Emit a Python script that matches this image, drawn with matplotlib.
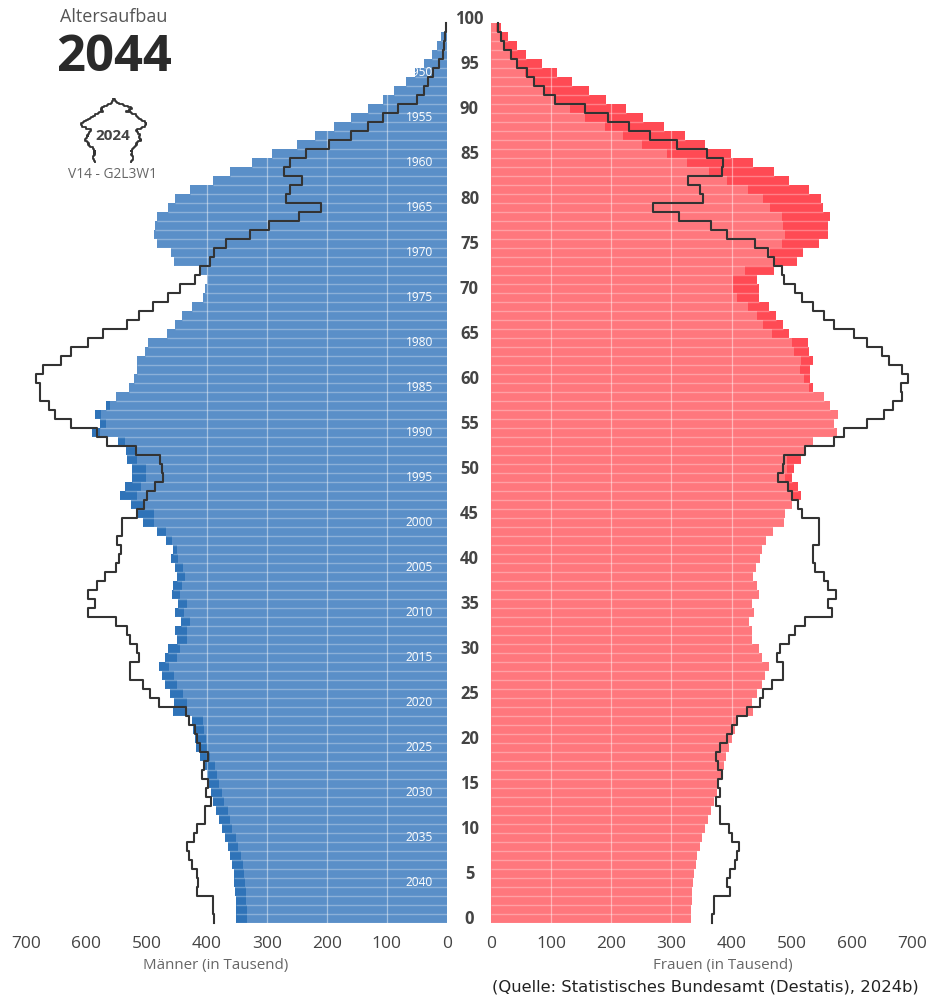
import numpy as np
import matplotlib
matplotlib.use("Agg")
import matplotlib.pyplot as plt

plt.rcParams['font.family'] = ['Open Sans', 'DejaVu Sans']

W, H = 930, 997
ages = np.arange(99, -1, -1)

# values in thousands, listed from age 99 down to age 0
men_2044_outer = [4,10,17,25,38,53,69,88,106,131,159,188,219,250,291,325,361,390,427,453,
                  465,482,486,488,482,460,454,413,400,403,406,425,441,453,466,498,503,515,515,520,
                  529,551,567,586,578,590,547,534,532,524,524,535,544,525,514,506,482,468,456,460,
                  453,450,456,458,448,452,443,452,450,465,469,479,475,469,461,455,456,424,423,419,
                  417,411,404,400,397,393,389,384,379,375,369,365,361,358,355,354,352,351,351,351]
men_2044_inner = [4,10,17,25,38,53,69,88,106,131,159,188,219,250,291,325,361,390,427,453,
                  465,482,486,488,482,460,454,413,400,403,406,425,441,453,466,498,503,515,515,520,
                  529,551,561,576,568,577,535,519,515,501,501,509,515,506,487,487,468,458,449,448,
                  440,436,441,444,433,437,428,433,433,445,449,462,454,450,440,433,435,406,404,401,
                  398,395,386,382,379,375,371,365,361,357,351,348,343,340,338,336,335,334,333,332]
men_2024 = [2,3,5,7,13,23,31,38,50,81,106,132,160,196,235,262,271,241,261,268,
            209,247,297,328,367,387,394,411,420,444,465,490,513,533,572,597,625,642,672,684,
            678,677,663,652,625,583,565,517,477,475,473,486,500,504,515,540,541,549,543,545,
            550,569,583,598,586,597,550,533,527,516,513,527,528,505,494,479,435,430,419,416,
            411,397,404,407,397,401,393,403,403,416,421,433,429,424,416,414,416,390,390,388]
women_2044_outer = [17,28,43,59,84,110,134,163,191,224,253,288,323,355,399,435,471,496,528,549,
                    552,564,561,560,545,518,509,471,443,445,446,463,474,485,496,527,528,535,530,530,
                    535,554,564,577,570,576,536,520,515,504,501,510,516,500,489,488,469,458,450,448,
                    441,436,442,445,434,438,429,434,434,446,450,463,456,450,442,434,436,409,406,400,
                    395,391,387,382,378,375,371,365,360,356,351,347,343,341,338,336,335,334,333,333]
women_2044_inner = [9,15,20,32,43,57,70,87,104,131,156,190,220,251,292,326,362,392,428,453,
                    464,484,486,489,484,464,473,423,403,403,409,427,443,453,468,501,503,516,514,521,
                    529,554,564,577,570,576,536,520,492,492,489,495,500,500,489,488,469,458,450,448,
                    441,436,442,445,434,438,429,434,434,446,450,463,456,450,442,434,436,409,406,400,
                    395,391,387,382,378,375,371,365,360,356,351,347,343,341,338,336,335,334,333,333]
women_2024 = [12,16,22,33,44,60,72,88,107,156,195,229,265,309,359,385,384,327,348,352,
              270,313,365,393,439,461,470,484,487,506,517,536,553,570,604,625,650,661,684,693,
              682,683,668,654,626,587,571,522,488,485,478,493,500,510,517,546,545,545,536,536,
              539,553,561,574,561,567,522,506,496,481,475,486,486,467,452,448,425,409,400,392,
              381,374,378,384,377,380,374,380,381,395,400,413,409,405,398,392,397,371,370,368]
value_ticks = [0, 100, 200, 300, 400, 500, 600, 700]
grid_values = [100, 200, 300, 400]
age_labels = list(range(0, 101, 5))
birth_years = list(range(1950, 2041, 5))
REF_YEAR = 2044

MEN_LIGHT, MEN_DARK = '#5A8FC8', '#2F73B8'
WOMEN_LIGHT, WOMEN_DARK = '#FF777D', '#FF4A54'
LINE = '#333333'


def pixel_axes(x0, x1, y_top, y_bot):
    return fig.add_axes([x0 / W, 1 - y_bot / H, (x1 - x0) / W, (y_bot - y_top) / H])


def step_xy(vals):
    xs = np.repeat(np.asarray(vals, float), 2)
    ys = np.column_stack([ages + 0.5, ages - 0.5]).ravel()
    return xs, ys


fig = plt.figure(figsize=(W / 100, H / 100), dpi=100, facecolor='white')
axL = pixel_axes(26.3, 447, 23, 923)
axR = pixel_axes(491, 912, 23, 923)

for ax, outer, inner, line, light, dark in (
        (axL, men_2044_outer, men_2044_inner, men_2024, MEN_LIGHT, MEN_DARK),
        (axR, women_2044_outer, women_2044_inner, women_2024, WOMEN_LIGHT, WOMEN_DARK)):
    ax.barh(ages, outer, height=1, color=dark, linewidth=0, zorder=2)
    ax.barh(ages, inner, height=1, color=light, linewidth=0, zorder=3)
    # pale separator along the lower edge of each row
    ax.hlines(ages - 0.5, 0, outer, color='white', alpha=0.3, lw=1.0, zorder=4)
    for g in grid_values:
        ax.axvline(g, color='white', alpha=0.45, lw=0.9, zorder=4)
    xs, ys = step_xy(line)
    ax.plot(xs, ys, color=LINE, lw=1.5, solid_joinstyle='round', zorder=5, clip_on=False)
    ax.set_xlim(0, 700)
    ax.set_ylim(-0.5, 99.5)
    ax.set_xticks(value_ticks)
    ax.set_yticks([])
    ax.tick_params(axis='x', length=0, pad=9, labelsize=12.5, labelcolor='#444444')
    for s in ax.spines.values():
        s.set_visible(False)
    ax.patch.set_alpha(0)
axL.invert_xaxis()

for yr in birth_years:
    axL.text(46, REF_YEAR - yr, str(yr), color='white', fontsize=8.6, ha='center', va='center', zorder=6)

for a in age_labels:
    axR.annotate(str(a), xy=(0, a - 0.05), xycoords=('axes fraction', 'data'),
                 xytext=(469.5, 0), textcoords=('figure pixels', 'offset points'),
                 ha='center', va='center', fontsize=12, fontweight='bold', color='#444444',
                 annotation_clip=False)


def ftext(x, y, s, **kw):
    fig.text(x / W, 1 - y / H, s, ha='center', va='center', **kw)


ftext(216, 965, 'Männer (in Tausend)', fontsize=10.9, color='#666666')
ftext(723, 965, 'Frauen (in Tausend)', fontsize=10.9, color='#666666')
ftext(705, 987, '(Quelle: Statistisches Bundesamt (Destatis), 2024b)', fontsize=11.8,
      color='#222222', family='DejaVu Sans')
ftext(113.5, 17, 'Altersaufbau', fontsize=13, color='#555555')
ftext(114, 58, '2044', fontsize=36.5, fontweight='bold', color='#2a2a2a')
ftext(113, 136, '2024', fontsize=11, fontweight='bold', color='#444444')
ftext(112.5, 175, 'V14 - G2L3W1', fontsize=9.9, color='#666666')

icon = pixel_axes(80, 147, 98, 163)
for vals, sign in ((men_2024, -1), (women_2024, 1)):
    xs, ys = step_xy(vals)
    icon.plot(sign * xs, ys, color='#333333', lw=1.3)
icon.set_xlim(-700, 700)
icon.set_ylim(-0.5, 99.5)
icon.axis('off')

fig.savefig('out.png', dpi=100, facecolor='white')
